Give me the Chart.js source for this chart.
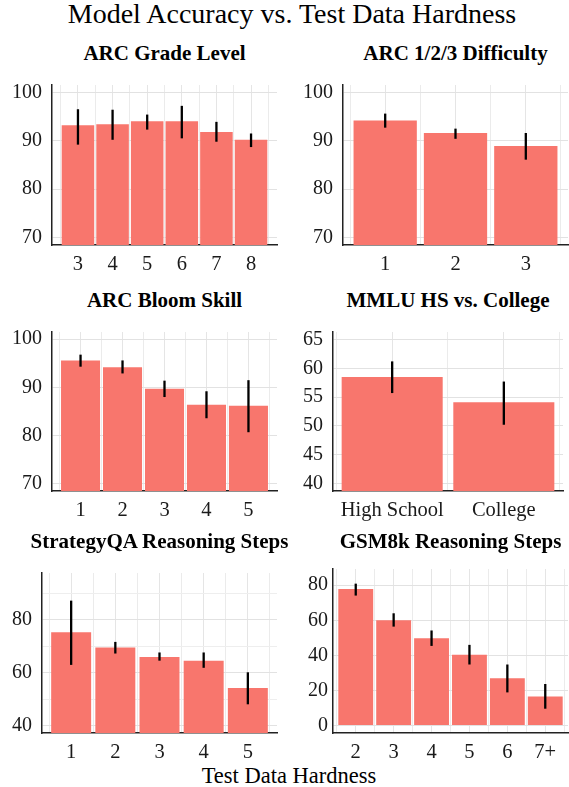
<!DOCTYPE html>
<html lang="en">
<head>
<meta charset="UTF-8">
<title>Model Accuracy vs. Test Data Hardness</title>
<script src="https://cdn.jsdelivr.net/npm/chart.js"></script>
<style>
  body { margin: 0; background: #fff; }
  #page { position: relative; width: 569px; height: 787px; overflow: hidden; font-family: 'Liberation Serif', 'Times New Roman', serif; color: #000; }
  .txt { position: absolute; white-space: nowrap; line-height: 1; text-align: center; }
  .sub { font-weight: bold; font-size: 21px; }
  canvas { position: absolute; }
</style>
</head>
<body>
<div id="page">
  <div class="txt" style="left:0; width:584px; top:0px; font-size:28px;">Model Accuracy vs. Test Data Hardness</div>
  <div class="txt" style="left:0; width:578px; top:765px; font-size:22.5px;">Test Data Hardness</div>
</div>
<script>
// ARC grade level
const gradeLabels = ['3', '4', '5', '6', '7', '8'];
const gradeAcc = [93.2, 93.4, 94.0, 94.0, 91.8, 90.2];
const gradeLow = [89.2, 90.2, 92.3, 90.5, 89.8, 88.7];
const gradeHigh = [96.5, 96.4, 95.4, 97.2, 93.9, 91.5];

// ARC 1/2/3 difficulty
const diffLabels = ['1', '2', '3'];
const diffAcc = [94.2, 91.6, 88.9];
const diffLow = [92.7, 90.4, 86.1];
const diffHigh = [95.6, 92.5, 91.6];

// ARC bloom skill
const bloomLabels = ['1', '2', '3', '4', '5'];
const bloomAcc = [95.6, 94.2, 89.7, 86.4, 86.2];
const bloomLow = [94.3, 92.9, 88.0, 83.6, 80.7];
const bloomHigh = [96.8, 95.6, 91.4, 89.2, 91.5];

// MMLU high school vs college
const mmluLabels = ['High School', 'College'];
const mmluAcc = [58.5, 54.1];
const mmluLow = [55.7, 50.2];
const mmluHigh = [61.2, 57.7];

// StrategyQA reasoning steps
const sqaLabels = ['1', '2', '3', '4', '5'];
const sqaAcc = [75.3, 69.6, 66.0, 64.6, 54.3];
const sqaLow = [63.0, 67.3, 64.6, 61.9, 48.1];
const sqaHigh = [87.3, 71.7, 67.7, 67.7, 60.2];

// GSM8k reasoning steps
const gsmLabels = ['2', '3', '4', '5', '6', '7+'];
const gsmAcc = [77.8, 60.1, 49.7, 40.3, 27.0, 16.6];
const gsmLow = [74.1, 56.4, 45.4, 34.8, 18.9, 9.6];
const gsmHigh = [80.9, 64.0, 54.2, 46.0, 34.8, 23.7];

const panels = [
  { title: 'ARC Grade Level', labels: gradeLabels, acc: gradeAcc, lo: gradeLow, hi: gradeHigh,
    yMin: 68.5, yMax: 101.5, step: 5, major: 10, box: { L: 52, R: 277, T: 75, B: 245 }, pad: 0.75, bar: 0.94, yPad: 10, titleY: 53 },
  { title: 'ARC 1/2/3 Difficulty', labels: diffLabels, acc: diffAcc, lo: diffLow, hi: diffHigh,
    yMin: 68.5, yMax: 101.5, step: 5, major: 10, box: { L: 343, R: 568, T: 75, B: 245 }, pad: 0.6, bar: 0.9, yPad: 10, titleY: 53 },
  { title: 'ARC Bloom Skill', labels: bloomLabels, acc: bloomAcc, lo: bloomLow, hi: bloomHigh,
    yMin: 68.5, yMax: 101.5, step: 5, major: 10, box: { L: 52, R: 277, T: 322, B: 491 }, pad: 0.68, bar: 0.93, yPad: 10, titleY: 300 },
  { title: 'MMLU HS vs. College', labels: mmluLabels, acc: mmluAcc, lo: mmluLow, hi: mmluHigh,
    yMin: 38.7, yMax: 66.3, step: 2.5, major: 5, box: { L: 333, R: 563, T: 322, B: 491 }, pad: 0.53, bar: 0.905, yPad: 10, titleY: 300 },
  { title: 'StrategyQA Reasoning Steps', labels: sqaLabels, acc: sqaAcc, lo: sqaLow, hi: sqaHigh,
    yMin: 37.25, yMax: 97.75, step: 10, major: 20, box: { L: 42, R: 277, T: 563, B: 733 }, pad: 0.66, bar: 0.905, yPad: 10, titleY: 541.5 },
  { title: 'GSM8k Reasoning Steps', labels: gsmLabels, acc: gsmAcc, lo: gsmLow, hi: gsmHigh,
    yMin: -4.25, yMax: 89.25, step: 10, major: 20, box: { L: 333, R: 568, T: 564, B: 733 }, pad: 0.6, bar: 0.92, yPad: 5, titleY: 541.5 }
];

const page = document.getElementById('page');
const yw = 42, xh = 40, padTop = 12, padRight = 6;

function makePanel(p) {
  const { L, R, T, B } = p.box;

  const t = document.createElement('div');
  t.className = 'txt sub';
  t.textContent = p.title;
  t.style.left = (L + R) / 2 + 'px';
  t.style.top = (p.titleY - 10.5) + 'px';
  t.style.transform = 'translateX(-50%)';
  page.appendChild(t);

  const canvas = document.createElement('canvas');
  canvas.width = (R - L) + yw + padRight;
  canvas.height = (B - T) + padTop + xh;
  canvas.style.left = (L - yw) + 'px';
  canvas.style.top = (T - padTop) + 'px';
  page.appendChild(canvas);

  const xMin = -p.pad, xMax = p.labels.length - 1 + p.pad;

  // vertical error bars drawn through the chart's own scales
  const errorBars = {
    id: 'errorBars',
    afterDatasetsDraw(chart) {
      const { ctx, scales: { x, y } } = chart;
      ctx.save();
      ctx.strokeStyle = '#000';
      ctx.lineWidth = 2.3;
      p.lo.forEach((lo, i) => {
        const px = x.getPixelForValue(i);
        ctx.beginPath();
        ctx.moveTo(px, y.getPixelForValue(lo));
        ctx.lineTo(px, y.getPixelForValue(p.hi[i]));
        ctx.stroke();
      });
      ctx.restore();
    }
  };

  new Chart(canvas.getContext('2d'), {
    type: 'bar',
    data: {
      datasets: [{
        data: p.acc.map((v, i) => ({ x: i, y: v })),
        backgroundColor: '#F8766D',
        barPercentage: p.bar,
        categoryPercentage: 1,
        clip: 0
      }]
    },
    options: {
      responsive: false,
      animation: false,
      layout: { padding: { top: padTop, right: padRight, left: 0, bottom: 0 } },
      plugins: { legend: { display: false }, tooltip: { enabled: false } },
      scales: {
        x: {
          type: 'linear', min: xMin, max: xMax, offset: false,
          grid: { color: '#e5e5e5', drawTicks: false, offset: false },
          border: { display: true, color: '#222', width: 1.5 },
          ticks: {
            stepSize: 1, includeBounds: false, padding: 7, maxRotation: 0, autoSkip: false,
            color: '#1a1a1a', font: { family: "'Liberation Serif', serif", size: 20.5 },
            callback: (v) => p.labels[v] ?? ''
          },
          afterFit: (s) => { s.height = xh; }
        },
        // second axis only for the grid lines between categories
        x2: {
          type: 'linear', position: 'bottom', min: xMin + 0.5, max: xMax + 0.5, offset: false,
          grid: { color: '#ebebeb', drawTicks: false, offset: false },
          border: { display: false },
          ticks: { display: false, stepSize: 1, includeBounds: false },
          afterFit: (s) => { s.height = 0; }
        },
        y: {
          min: p.yMin, max: p.yMax,
          grid: {
            drawTicks: false,
            color: (c) => (c.tick && c.tick.value % p.major === 0) ? '#e2e2e2' : '#eeeeee'
          },
          border: { display: true, color: '#222', width: 1.5 },
          ticks: {
            stepSize: p.step, includeBounds: false, padding: p.yPad,
            color: '#1a1a1a', font: { family: "'Liberation Serif', serif", size: 20 },
            callback: (v) => (v % p.major === 0 ? v : '')
          },
          afterFit: (s) => { s.width = yw; }
        }
      }
    },
    plugins: [errorBars]
  });
}

panels.forEach(makePanel);
</script>
</body>
</html>
